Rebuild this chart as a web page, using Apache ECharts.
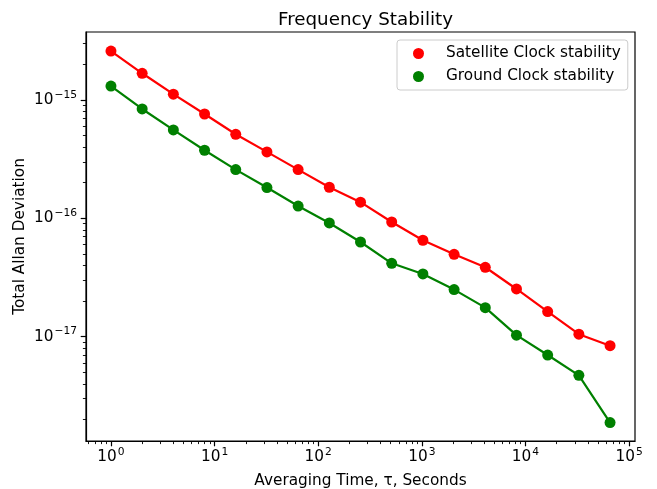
<!DOCTYPE html>
<html>
<head>
<meta charset="utf-8">
<script src="https://cdn.jsdelivr.net/npm/echarts@6/dist/echarts.min.js"></script>
<style>
html,body{margin:0;padding:0;background:#fff}
#main{width:657px;height:489px}
</style>
</head>
<body>
<div id="main"></div>
<script>
var tau=[1,2,4,8,16,32,64,128,256,512,1024,2048,4096,8192,16384,32768,65536]
var satellite=[2.59e-15,1.68e-15,1.12e-15,7.61e-16,5.13e-16,3.64e-16,2.58e-16,1.83e-16,1.37e-16,9.31e-17,6.53e-17,4.97e-17,3.86e-17,2.53e-17,1.63e-17,1.05e-17,8.4e-18]
var ground=[1.31e-15,8.39e-16,5.58e-16,3.76e-16,2.58e-16,1.82e-16,1.27e-16,9.14e-17,6.31e-17,4.17e-17,3.39e-17,2.50e-17,1.76e-17,1.03e-17,7.0e-18,4.72e-18,1.88e-18]
var xMajor=[1,10,100,1000,10000,100000]
var yMajor=[1e-17,1e-16,1e-15]

// minor ticks 2..9 per decade
function minors(lo,hi){
	var out=[]
	for(var e=lo;e<=hi;e++){
		for(var k=2;k<10;k++){out.push(k*Math.pow(10,e))}
	}
	return out
}
var xMinor=minors(-1,4)
var yMinor=minors(-18,-15)

var font="DejaVu Sans"
var fs=15.3
function sup(v){
	var e=Math.round(Math.log10(v))
	return "{b|10}{s|"+(e<0?"\u2212"+(-e):e)+"}"
}
var rich={
	b:{fontFamily:font,fontSize:fs,color:"#000",lineHeight:20},
	s:{fontFamily:font,fontSize:10.7,color:"#000",lineHeight:20,padding:[0,0,10,1]}
}
var xMin=0.5742,xMax=114060,yMin=1.315e-18,yMax=3.75e-15

function pairs(xs,ys){
	var d=[]
	for(var i=0;i<xs.length;i++){d.push([xs[i],ys[i]])}
	return d
}

var mychart=echarts.init(document.getElementById('main'),null,{renderer:'canvas'});
var option={
	backgroundColor:"#fff",
	animation:false,
	title:{
		text:"Frequency Stability",
		left:360.5,
		top:6,
		textAlign:"center",
		textStyle:{fontFamily:font,fontSize:18.3,fontWeight:"normal",color:"#000"}
	},
	legend:{
		orient:"vertical",
		left:397,
		top:40,
		padding:[6,7,6,16],
		itemGap:8,
		itemWidth:11,
		itemHeight:11,
		icon:"circle",
		borderColor:"#cccccc",
		borderWidth:1,
		borderRadius:3,
		backgroundColor:"rgba(255,255,255,0.8)",
		formatter:"{t|{name}}",
		textStyle:{fontFamily:font,fontSize:fs,color:"#000",
			rich:{t:{fontFamily:font,fontSize:fs,color:"#000",lineHeight:17,padding:[0,0,0,17]}}},
		data:["Satellite Clock stability","Ground Clock stability"]
	},
	grid:{left:86,top:32,right:22,bottom:48,outerBoundsMode:"none",containLabel:false,show:true,borderColor:"#000",borderWidth:1.2,backgroundColor:"transparent"},
	xAxis:[{
		type:"log",
		logBase:10,
		min:xMin,
		max:xMax,
		position:"bottom",
		name:"Averaging Time, \u03c4, Seconds",
		nameLocation:"middle",
		nameGap:33,
		nameMoveOverlap:false,
		nameTextStyle:{fontFamily:font,fontSize:fs,color:"#000"},
		axisLine:{show:true,lineStyle:{color:"#000",width:1.2}},
		axisTick:{show:true,length:5.3,lineStyle:{color:"#000",width:1.2},customValues:xMajor},
		axisLabel:{margin:6,customValues:xMajor,formatter:function(v){return sup(v)},rich:rich},
		splitLine:{show:false},
		minorTick:{show:false}
	},{
		type:"log",
		logBase:10,
		min:xMin,
		max:xMax,
		position:"bottom",
		axisLine:{show:false},
		axisTick:{show:true,length:3.1,lineStyle:{color:"#000",width:0.9},customValues:xMinor},
		axisLabel:{show:false},
		splitLine:{show:false}
	}],
	yAxis:[{
		type:"log",
		logBase:10,
		min:yMin,
		max:yMax,
		position:"left",
		name:"Total Allan Deviation",
		nameLocation:"middle",
		nameGap:58,
		nameMoveOverlap:false,
		nameTextStyle:{fontFamily:font,fontSize:fs,color:"#000"},
		axisLine:{show:true,lineStyle:{color:"#000",width:1.2}},
		axisTick:{show:true,length:5.3,lineStyle:{color:"#000",width:1.2},customValues:yMajor},
		axisLabel:{margin:9,customValues:yMajor,formatter:function(v){return sup(v)},rich:rich},
		splitLine:{show:false}
	},{
		type:"log",
		logBase:10,
		min:yMin,
		max:yMax,
		position:"left",
		axisLine:{show:false},
		axisTick:{show:true,length:3.1,lineStyle:{color:"#000",width:0.9},customValues:yMinor},
		axisLabel:{show:false},
		splitLine:{show:false}
	}],
	series:[{
		name:"Satellite Clock stability",
		type:"line",
		xAxisIndex:0,
		yAxisIndex:0,
		data:pairs(tau,satellite),
		color:"#ff0000",
		symbol:"circle",
		symbolSize:11,
		lineStyle:{width:2.2,color:"#ff0000"},
		itemStyle:{color:"#ff0000"}
	},{
		name:"Ground Clock stability",
		type:"line",
		xAxisIndex:0,
		yAxisIndex:0,
		data:pairs(tau,ground),
		color:"#008000",
		symbol:"circle",
		symbolSize:11,
		lineStyle:{width:2.2,color:"#008000"},
		itemStyle:{color:"#008000"}
	}]
};
mychart.setOption(option);
</script>
</body>
</html>
